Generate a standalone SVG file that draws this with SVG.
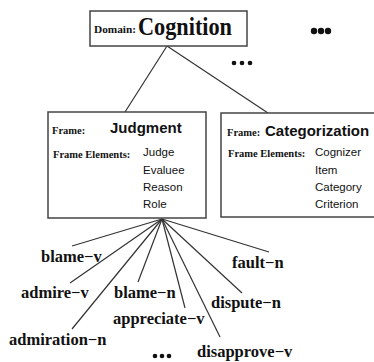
<svg xmlns="http://www.w3.org/2000/svg" width="374" height="362" viewBox="0 0 374 362">
<style>
.box{fill:#fff;stroke:#444;stroke-width:1.5}
.ln{stroke:#333;stroke-width:1.2;fill:none}
.lbl{font-family:"Liberation Serif",serif;font-weight:bold;fill:#111}
.sm{font-family:"Liberation Serif",serif;font-weight:bold;font-size:10.5px;fill:#111}
.hd{font-family:"Liberation Sans",Arial,sans-serif;font-weight:bold;font-size:15px;fill:#111}
.el{font-family:"Liberation Sans",Arial,sans-serif;font-size:11.5px;fill:#111}
.lex{font-family:"Liberation Serif",serif;font-weight:bold;font-size:16.5px;fill:#111}
.dots{fill:#111}
</style>
<rect width="374" height="362" fill="#fff"/>
<g id="connectors">
<line class="ln" x1="167" y1="46" x2="125" y2="112"/>
<line class="ln" x1="167" y1="46" x2="268" y2="113"/>
<line class="ln" x1="162" y1="219" x2="72" y2="246"/>
<line class="ln" x1="162" y1="219" x2="70" y2="283"/>
<line class="ln" x1="162" y1="219" x2="72" y2="329"/>
<line class="ln" x1="162" y1="219" x2="138" y2="282"/>
<line class="ln" x1="162" y1="219" x2="185" y2="308"/>
<line class="ln" x1="162" y1="219" x2="220" y2="337"/>
<line class="ln" x1="162" y1="219" x2="242" y2="293"/>
<line class="ln" x1="162" y1="219" x2="269" y2="252"/>
</g>
<g id="domain">
<rect class="box" x="90" y="11" width="157" height="35"/>
<text class="lbl" x="94" y="33" font-size="11.3">Domain:</text>
<text class="lbl" x="138" y="35" font-size="26" textLength="94" lengthAdjust="spacingAndGlyphs">Cognition</text>
</g>
<g id="dots-top">
<circle class="dots" cx="314" cy="31" r="3.2"/><circle class="dots" cx="321" cy="31" r="3.2"/><circle class="dots" cx="328" cy="31" r="3.2"/>
</g>
<g id="dots-mid">
<circle class="dots" cx="234" cy="63" r="2.3"/><circle class="dots" cx="242" cy="63" r="2.3"/><circle class="dots" cx="250" cy="63" r="2.3"/>
</g>
<g id="judgment">
<rect class="box" x="48" y="112" width="158" height="106"/>
<text class="sm" x="52" y="134">Frame:</text>
<text class="hd" x="110" y="133">Judgment</text>
<text class="sm" x="53" y="158">Frame Elements:</text>
<text class="el" x="143" y="156">Judge</text>
<text class="el" x="143" y="174">Evaluee</text>
<text class="el" x="143" y="191">Reason</text>
<text class="el" x="143" y="208">Role</text>
</g>
<g id="categorization">
<rect class="box" x="221" y="113" width="160" height="104"/>
<text class="sm" x="227" y="136">Frame:</text>
<text class="hd" x="265" y="136" font-size="14.5">Categorization</text>
<text class="sm" x="228" y="157">Frame Elements:</text>
<text class="el" x="315" y="156">Cognizer</text>
<text class="el" x="315" y="174">Item</text>
<text class="el" x="315" y="191">Category</text>
<text class="el" x="315" y="208">Criterion</text>
</g>
<g id="lexical-units">
<text class="lex" x="41" y="262">blame−v</text>
<text class="lex" x="21" y="298">admire−v</text>
<text class="lex" x="9" y="345">admiration−n</text>
<text class="lex" x="114" y="298">blame−n</text>
<text class="lex" x="113" y="324">appreciate−v</text>
<text class="lex" x="197" y="357">disapprove−v</text>
<text class="lex" x="211" y="308">dispute−n</text>
<text class="lex" x="232" y="268">fault−n</text>
</g>
<g id="dots-bottom">
<circle class="dots" cx="155" cy="356" r="2.3"/><circle class="dots" cx="162" cy="356" r="2.3"/><circle class="dots" cx="169" cy="356" r="2.3"/>
</g>
</svg>
